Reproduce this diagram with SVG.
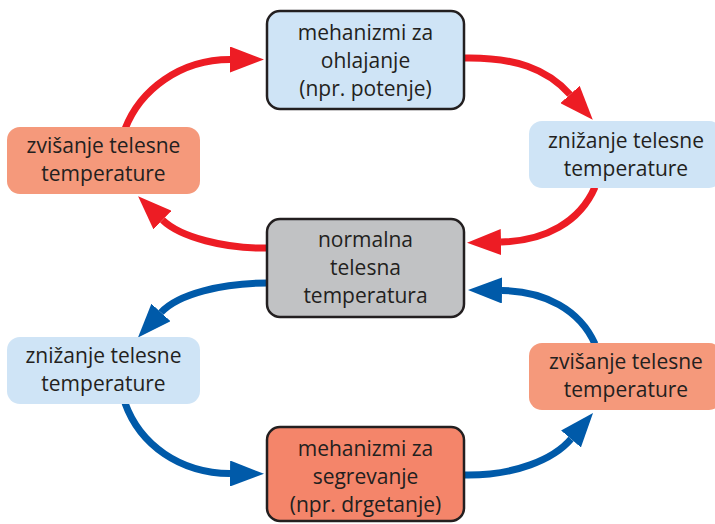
<svg xmlns="http://www.w3.org/2000/svg" width="715" height="524" viewBox="0 0 715 524">
<style>
.t{font-family:"Open Sans","Liberation Sans",sans-serif;font-size:21px;fill:#231f20;text-anchor:middle}
.box{stroke:#231f20;stroke-width:2.5}
.r{fill:none;stroke:#ed1c24;stroke-width:7}
.b{fill:none;stroke:#005aa9;stroke-width:7}
</style>
<defs>
<marker id="ar" viewBox="0 0 34 26" refX="0" refY="13" markerWidth="34" markerHeight="26" markerUnits="userSpaceOnUse" orient="auto"><path d="M0,0 L34,13 L0,26 z" fill="#ed1c24"/></marker>
<marker id="ab" viewBox="0 0 34 26" refX="0" refY="13" markerWidth="34" markerHeight="26" markerUnits="userSpaceOnUse" orient="auto"><path d="M0,0 L34,13 L0,26 z" fill="#005aa9"/></marker>
</defs>
<g id="connectors">
<path class="r" d="M125,129 C140,90 180,59.5 230,59.5" marker-end="url(#ar)"/>
<path class="r" d="M464,58 C515,57 547,69 570,94.5" marker-end="url(#ar)"/>
<path class="r" d="M595,187 C580,222 545,241 501,242" marker-end="url(#ar)"/>
<path class="r" d="M268,248 C225,249 180,237 162.5,220" marker-end="url(#ar)"/>
<path class="b" d="M268,283 C222,283 178,294 161,312.5" marker-end="url(#ab)"/>
<path class="b" d="M125,403 C140,445 180,473 230,473.5" marker-end="url(#ab)"/>
<path class="b" d="M464,475 C515,476 554,459 571,439" marker-end="url(#ab)"/>
<path class="b" d="M595,344 C580,310 545,291 502,290.5" marker-end="url(#ab)"/>
</g>
<g id="n_cool">
<rect class="box" x="267" y="11" width="197" height="98" rx="13" fill="#cfe4f6"/>
<text class="t" x="365.5" y="40">mehanizmi za</text>
<text class="t" x="365.5" y="68">ohlajanje</text>
<text class="t" x="365.5" y="96">(npr. potenje)</text>
</g>
<g id="n_up_left">
<rect x="7" y="127" width="193" height="67" rx="13" fill="#f5997b"/>
<text class="t" x="103.5" y="153">zvišanje telesne</text>
<text class="t" x="103.5" y="181">temperature</text>
</g>
<g id="n_down_right">
<rect x="529" y="121" width="193" height="67" rx="13" fill="#cfe4f6"/>
<text class="t" x="626" y="148">znižanje telesne</text>
<text class="t" x="626" y="176">temperature</text>
</g>
<g id="n_normal">
<rect class="box" x="267" y="219" width="197" height="98" rx="13" fill="#c1c2c4"/>
<text class="t" x="365.5" y="247">normalna</text>
<text class="t" x="365.5" y="275">telesna</text>
<text class="t" x="365.5" y="303">temperatura</text>
</g>
<g id="n_down_left">
<rect x="7" y="337" width="193" height="67" rx="13" fill="#cfe4f6"/>
<text class="t" x="103.5" y="363">znižanje telesne</text>
<text class="t" x="103.5" y="391">temperature</text>
</g>
<g id="n_up_right">
<rect x="529" y="343" width="193" height="67" rx="13" fill="#f5997b"/>
<text class="t" x="626" y="369">zvišanje telesne</text>
<text class="t" x="626" y="397">temperature</text>
</g>
<g id="n_heat">
<rect class="box" x="267" y="427" width="197" height="94" rx="13" fill="#f4856a"/>
<text class="t" x="365.5" y="456">mehanizmi za</text>
<text class="t" x="365.5" y="484">segrevanje</text>
<text class="t" x="365.5" y="512">(npr. drgetanje)</text>
</g>
</svg>
